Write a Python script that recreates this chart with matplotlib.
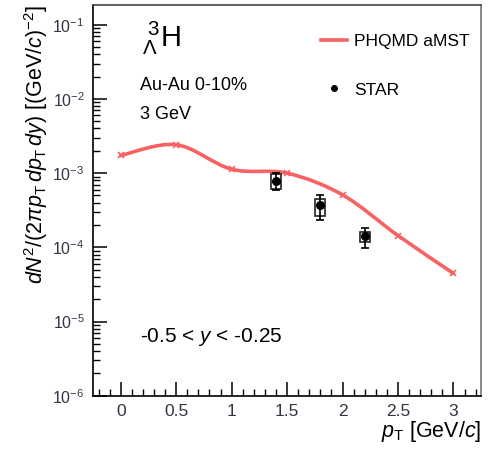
import numpy as np
import matplotlib.pyplot as plt
from matplotlib.path import Path
from matplotlib.patches import PathPatch, Rectangle
from matplotlib.lines import Line2D
from matplotlib.ticker import LogLocator, MultipleLocator, FixedLocator, NullFormatter

plt.rcParams['font.family'] = ['Liberation Sans', 'DejaVu Sans']
plt.rcParams['mathtext.fontset'] = 'custom'
plt.rcParams['mathtext.rm'] = 'Liberation Sans'
plt.rcParams['mathtext.it'] = 'Liberation Sans:italic'

# PHQMD aMST model curve
model_pt = [0.0, 0.5, 1.0, 1.5, 2.0, 2.5, 3.0]
model_y = [1.73e-3, 2.42e-3, 1.13e-3, 1.0e-3, 5.1e-4, 1.44e-4, 4.45e-5]

# STAR data
star_pt = [1.4, 1.8, 2.2]
star_y = [7.96e-4, 3.70e-4, 1.40e-4]
star_stat_lo = [6.0e-4, 2.34e-4, 9.8e-5]
star_stat_hi = [9.9e-4, 5.0e-4, 1.81e-4]
star_sys_lo = [6.15e-4, 2.68e-4, 1.17e-4]
star_sys_hi = [9.8e-4, 4.5e-4, 1.63e-4]

red = '#f86262'

fig = plt.figure(figsize=(4.92, 4.51), dpi=100)
ax = fig.add_axes([0.189, 0.1226, 0.789, 0.8664])
ax.set_yscale('log')
ax.set_xlim(-0.25, 3.25)
ax.set_ylim(1e-6, 0.185)

# smooth curve through model points (Catmull-Rom in log space)
xs = np.array(model_pt)
ls = np.log10(model_y)
verts = [(xs[0], ls[0])]
codes = [Path.MOVETO]
n = len(xs)
for i in range(n - 1):
    p0 = np.array([xs[max(i - 1, 0)], ls[max(i - 1, 0)]])
    p1 = np.array([xs[i], ls[i]])
    p2 = np.array([xs[i + 1], ls[i + 1]])
    p3 = np.array([xs[min(i + 2, n - 1)], ls[min(i + 2, n - 1)]])
    c1 = p1 + (p2 - p0) / 6.0
    c2 = p2 - (p3 - p1) / 6.0
    verts += [tuple(c1), tuple(c2), tuple(p2)]
    codes += [Path.CURVE4] * 3
verts = [(vx, 10 ** vy) for vx, vy in verts]
ax.add_patch(PathPatch(Path(verts, codes), facecolor='none', edgecolor=red,
                       lw=2.6, zorder=3, capstyle='round'))
ax.plot(model_pt, model_y, ls='none', marker='x', ms=4, mew=1.2, color=red, zorder=3)

# systematic boxes
for x, lo, hi in zip(star_pt, star_sys_lo, star_sys_hi):
    ax.add_patch(Rectangle((x - 0.045, lo), 0.09, hi - lo, fill=False,
                           edgecolor='#222222', lw=1.2, zorder=4))
yerr = [np.array(star_y) - np.array(star_stat_lo), np.array(star_stat_hi) - np.array(star_y)]
ax.errorbar(star_pt, star_y, yerr=yerr, fmt='o', color='black', ms=5.5,
            capsize=3, elinewidth=1.2, capthick=1.2, zorder=5)

# ticks
ax.tick_params(which='both', direction='in', top=False, right=False,
               labelcolor='#333344', pad=6)
ax.tick_params(axis='x', labelsize=12.5)
ax.tick_params(axis='y', labelsize=11.5)
ax.tick_params(which='major', length=10, width=1.1)
ax.tick_params(which='minor', length=5, width=1.0)
ax.xaxis.set_major_locator(FixedLocator([0, 0.5, 1, 1.5, 2, 2.5, 3]))
ax.set_xticklabels(['0', '0.5', '1', '1.5', '2', '2.5', '3'])
ax.xaxis.set_minor_locator(MultipleLocator(0.1))
ax.yaxis.set_major_locator(LogLocator(base=10, numticks=10))
ax.yaxis.set_minor_locator(LogLocator(base=10, subs=np.arange(2, 10), numticks=20))
ax.yaxis.set_minor_formatter(NullFormatter())
for s in ax.spines.values():
    s.set_linewidth(1.2)
ax.spines['top'].set_color('#444444')
ax.spines['right'].set_color('#777777')

ax.set_xlabel(r'$p_{\rm T}$ [GeV/$c$]', fontsize=15.5, loc='right', labelpad=0)
ax.set_ylabel(r'$dN^{2}/(2\pi p_{\rm T}\,dp_{\rm T}\,dy)$ [(GeV/$c$)$^{-2}$]',
              fontsize=15.5, loc='top', labelpad=2)

ax.text(0.125, 0.915, r'$^{\ 3}_{\Lambda}$H', transform=ax.transAxes, fontsize=21, va='center')
ax.text(0.12, 0.795, 'Au-Au 0-10%', transform=ax.transAxes, fontsize=13, va='center')
ax.text(0.12, 0.72, '3 GeV', transform=ax.transAxes, fontsize=13, va='center')
ax.text(0.12, 0.15, r'-0.5 < $y$ < -0.25', transform=ax.transAxes, fontsize=15, va='center')

handles = [Line2D([], [], color=red, lw=2.6),
           Line2D([], [], ls='none', marker='o', color='black', ms=4)]
ax.legend(handles, ['PHQMD aMST', 'STAR'], loc='upper right', bbox_to_anchor=(1.01, 0.965),
          frameon=False, fontsize=12.5, handlelength=1.5, labelspacing=1.9, handletextpad=0.4)

fig.savefig('out.png', dpi=100)
